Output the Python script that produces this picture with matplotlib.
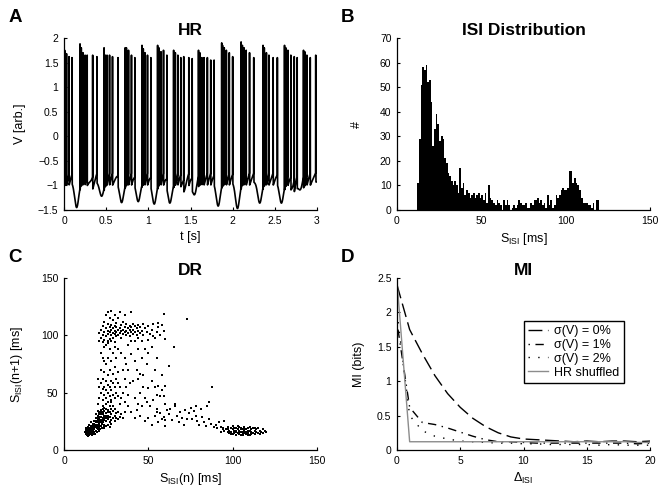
import numpy as np
import matplotlib
matplotlib.use("Agg")
import matplotlib.pyplot as plt

plt.rcParams['font.family'] = ['Liberation Sans', 'DejaVu Sans']
plt.rcParams['mathtext.fontset'] = 'custom'
plt.rcParams['mathtext.rm'] = 'Liberation Sans'
plt.rcParams['mathtext.it'] = 'Liberation Sans:italic'
plt.rcParams['mathtext.bf'] = 'Liberation Sans:bold'

# ---------------- Panel A: HR voltage trace ----------------
spike_times = [0.008, 0.030, 0.060, 0.095,
               0.190, 0.205, 0.225, 0.250, 0.275, 0.340, 0.390,
               0.475, 0.490, 0.510, 0.540, 0.575, 0.640,
               0.725, 0.740, 0.765, 0.800, 0.840,
               0.925, 0.940, 0.960, 0.990, 1.030,
               1.110, 1.125, 1.150, 1.180, 1.220,
               1.300, 1.320, 1.350, 1.385, 1.420, 1.480, 1.520,
               1.595, 1.610, 1.635, 1.660, 1.700, 1.740, 1.780,
               1.870, 1.880, 1.900, 1.925, 1.960, 2.000,
               2.100, 2.115, 2.135, 2.160, 2.200, 2.250,
               2.360, 2.375, 2.400, 2.430, 2.480, 2.530,
               2.615, 2.630, 2.655, 2.690, 2.730, 2.765,
               2.840, 2.855, 2.880, 2.920, 2.985]
spike_peaks = [1.75, 1.68, 1.62, 1.60,
               1.88, 1.80, 1.70, 1.65, 1.65, 1.65, 1.62,
               1.80, 1.65, 1.65, 1.65, 1.62, 1.60,
               1.80, 1.80, 1.75, 1.65, 1.60,
               1.85, 1.78, 1.70, 1.65, 1.60,
               1.85, 1.80, 1.72, 1.75, 1.65,
               1.75, 1.70, 1.65, 1.60, 1.62, 1.60, 1.58,
               1.75, 1.70, 1.60, 1.60, 1.60, 1.55, 1.55,
               1.90, 1.85, 1.80, 1.75, 1.70, 1.62,
               1.92, 1.85, 1.80, 1.75, 1.70, 1.60,
               1.85, 1.80, 1.70, 1.65, 1.60, 1.60,
               1.85, 1.80, 1.75, 1.65, 1.62, 1.60,
               1.75, 1.72, 1.65, 1.60, 1.65]
trough_times = [0.150, 0.330, 0.446, 0.683, 0.880, 1.070, 1.255, 1.425,
                1.552, 1.828, 2.057, 2.321, 2.578, 2.716, 2.807]
trough_values = [-1.45, -1.02, -1.22, -1.35, -1.33, -1.38, -1.36, -1.07,
                 -1.22, -1.42, -1.47, -1.36, -1.36, -1.10, -1.15]
rest_v = -0.93
after_spike_v = -1.0     # voltage right after a spike
pre_spike_v = -0.74      # voltage just before the next spike in a burst

# ---------------- Panel B: ISI histogram (1 ms bins) ----------------
isi_first_bin = 12
isi_counts = [11, 29, 51, 58, 57, 59, 52, 53, 44, 26,
              33, 39, 35, 28, 30, 29, 21, 19, 15, 14,
              12, 10, 12, 10, 7, 17, 9, 11, 6, 8,
              7, 5, 6, 7, 5, 6, 7, 5, 6, 4,
              7, 3, 10, 5, 4, 3, 2, 4, 3, 2,
              0, 4, 2, 4, 2, 0, 1, 2, 1, 2,
              4, 3, 2, 2, 3, 1, 1, 3, 2, 4,
              4, 5, 3, 4, 2, 3, 1, 6, 2, 4,
              1, 2, 6, 5, 6, 8, 9, 8, 8, 9,
              16, 16, 11, 13, 11, 10, 8, 5, 3, 3,
              3, 2, 2, 1, 3, 0, 4, 4]

# ---------------- Panel C: return map ----------------
dr_pts = [
 (13,15),(13.5,17),(14,14),(14,16),(14,18),(14.5,15),(15,13),(15,16),(15,19),(15.5,17),(16,15),(16,18),(16,21),(16.5,16),
 (17,14),(17,17),(17,20),(17,23),(17.5,19),(18,16),(18,18),(18,22),(18,25),(18.5,20),(19,17),(19,21),(19,24),(19,28),
 (19.5,19),(20,18),(20,22),(20,26),(20,30),(20.5,24),(21,20),(21,23),(21,27),(21,33),(21.5,25),(22,21),(22,26),(22,29),
 (22,35),(22.5,23),(23,24),(23,28),(23,31),(23,38),(23.5,27),(24,22),(24,26),(24,30),(24,34),(24.5,29),(25,25),(25,28),
 (25,32),(25,40),(26,27),(26,30),(26,35),(27,24),(27,29),(27,33),(28,26),(28,31),(28,36),(29,28),(29,34),(30,30),(30,25),
 (31,32),(32,27),(33,29),(13,19),(14,20),(15,22),(16,24),(13.5,13),(14.5,12.5),(15.5,14),(16.5,13.5),(17.5,15),(18.5,14),
 (19.5,16),(20.5,17),(21.5,18),(22.5,19),(23.5,20),(12.5,16),(13,14),(12.8,18),(14,15.5),(15,17.5),(16,19.5),(17,21),
 (18,20),(19,25),(20,20),(21,29),(22,31),(23,33),(24,37),(25,36),(26,33),(27,38),(28,42),(29,38),(30,36),(31,28),(32,33),
 (34,31),(35,28),(26,22),(27,20),(28,23),(25,21),(24,19),
 (13,16.5),(14,13),(15,14.5),(16,17),(17,18.5),(18,19),(19,20),(20,24),(21,22),(22,24),(23,26),(24,28),(25,30),(26,28),
 (19,22),(18,23),(17,16),(16,14),(20,28),(22,33),(21,31),(20,34),(19,31),(23,36),
 (20,40),(21,45),(22,50),(22,58),(23,44),(23,53),(23,62),(24,48),(24,55),(24,68),(25,45),(25,52),(25,60),(25,75),(26,42),
 (26,50),(26,57),(26,65),(26,80),(27,47),(27,55),(27,70),(27,88),(28,44),(28,52),(28,60),(28,78),(28,95),(29,48),(29,58),
 (29,66),(29,85),(30,45),(30,55),(30,72),(30,90),(31,50),(31,62),(31,80),(32,47),(32,58),(32,68),(32,88),(22,70),(23,80),
 (24,90),(25,92),(21,55),(20,62),(22,85),(24,78),(26,95),(33,40),(34,45),(33,55),(35,50),(36,42),(37,55),(38,48),(36,62),
 (35,70),(39,58),(37,75),
 (21,102),(22,98),(22,105),(23,100),(23,108),(24,96),(24,103),(24,112),(25,99),(25,106),(25,118),(26,101),(26,104),
 (26,110),(26,120),(27,97),(27,103),(27,107),(27,115),(28,100),(28,105),(28,109),(28,121),(29,98),(29,102),(29,106),
 (29,113),(30,101),(30,104),(30,108),(30,118),(31,99),(31,103),(31,107),(31,111),(32,100),(32,105),(32,115),(33,102),
 (33,106),(33,120),(34,98),(34,104),(34,109),(35,101),(35,105),(35,112),(36,103),(36,107),(36,118),(37,100),(37,104),
 (37,110),(38,102),(38,106),(39,99),(39,105),(39,108),(40,103),(40,107),(40,120),(41,101),(41,105),(41,110),(42,103),
 (42,108),(43,100),(43,106),(44,104),(44,109),(45,102),(45,107),(46,104),(47,110),(47,100),(48,106),(49,103),(50,108),
 (51,101),(52,105),(53,110),(54,98),(55,103),(56,107),(57,100),(58,109),(59,104),(60,97),(59,119),(56,111),(46,95),
 (50,96),(53,99),(42,95),(38,92),(44,98),(23,94),(26,93),(30,94),(21,95),
 (34,85),(36,80),(38,70),(40,84),(42,78),(44,62),(45,66),(47,65),(49,75),(50,54),(52,60),(54,55),(55,48),(56,56),(57,47),
 (58,52),(59,47),(60,40),(42,45),(44,40),(46,38),(48,45),(40,33),(43,35),(45,50),(47,55),(49,42),(51,38),(53,44),(55,36),
 (57,32),(59,29),(61,35),(38,38),(36,33),(41,60),(43,70),(50,85),(52,90),(48,88),(55,80),(54,70),(58,65),(60,56),(46,80),
 (40,95),(44,88),(62,73),(65,90),(73,114),
 (48,25),(50,28),(52,22),(54,30),(56,24),(58,27),(60,21),(62,31),(64,26),(66,40),(66,38),(68,24),(70,28),(71,22),(72,35),
 (74,32),(75,37),(76,27),(77,34),(78,30),(79,25),(80,22),(81,36),(82,29),(83,24),(84,21),(85,38),(86,27),(86,42),(87,23),
 (88,55),(89,20),(90,22),(91,19),(92,24),(93,20),(94,18),(95,25),(63,36),(69,33),(73,27),(78,38),(60,26),(67,30),(55,33),
 (45,30),(42,28),
 (96,18),(97,16),(97,20),(98,17),(98,15),(99,19),(99,16),(100,18),(100,14),(100,21),(101,17),(101,15),(102,19),(102,16),
 (102,13),(103,18),(103,15),(104,17),(104,20),(104,14),(105,16),(105,19),(106,18),(106,15),(106,13),(107,17),(107,20),
 (108,16),(108,14),(108,18),(109,19),(109,15),(110,17),(110,13),(110,20),(111,16),(111,18),(112,15),(112,19),(113,17),
 (113,14),(114,16),(114,18),(115,15),(115,19),(116,17),(116,14),(117,16),(118,18),(118,15),(119,17),(120,16),(103,21),
 (105,13),(107,15),(109,17),(111,14),(113,19),(101,19),(99,14),(97,18),(95,17),(94,19),(93,16),(105,18),(107,18),(109,13),
 (106,16),(104,16),(102,17)]
dr_x = [p[0] for p in dr_pts]
dr_y = [p[1] for p in dr_pts]

# ---------------- Panel D: mutual information ----------------
delta_isi = list(range(0, 21))
mi_sigma0 = [2.40, 1.75, 1.40, 1.08, 0.82, 0.62, 0.46, 0.34, 0.25, 0.19, 0.16,
             0.15, 0.14, 0.13, 0.12, 0.13, 0.12, 0.13, 0.13, 0.12, 0.13]
mi_sigma1 = [1.85, 0.62, 0.40, 0.37, 0.32, 0.26, 0.20, 0.15, 0.12, 0.12, 0.11,
             0.10, 0.10, 0.10, 0.10, 0.10, 0.10, 0.10, 0.10, 0.09, 0.10]
mi_sigma2 = [2.00, 0.50, 0.28, 0.20, 0.16, 0.13, 0.12, 0.11, 0.10, 0.10, 0.09,
             0.09, 0.08, 0.08, 0.08, 0.08, 0.07, 0.08, 0.07, 0.07, 0.07]
mi_shuffled = [2.45, 0.12, 0.12, 0.12, 0.12, 0.12, 0.12, 0.12, 0.12, 0.12, 0.12,
               0.12, 0.12, 0.12, 0.12, 0.12, 0.12, 0.12, 0.12, 0.11, 0.11]

# ======================================================================
W, H = 665, 498
fig = plt.figure(figsize=(W / 100, H / 100), dpi=100)

def make_ax(left, top, right, bottom):
    return fig.add_axes([left / W, 1 - bottom / H, (right - left) / W, (bottom - top) / H])

axA = make_ax(64, 38, 317, 210)
axB = make_ax(397, 38, 650, 210)
axC = make_ax(64, 278, 317, 450)
axD = make_ax(397, 278, 650, 450)

for ax in (axA, axB, axC, axD):
    ax.spines['top'].set_visible(False)
    ax.spines['right'].set_visible(False)
    ax.spines['left'].set_linewidth(0.9)
    ax.spines['bottom'].set_linewidth(0.9)
    ax.tick_params(direction='in', length=2.5, width=0.8, labelsize=7.5, pad=4)

title_kw = dict(fontsize=12.5, fontweight='bold', pad=2)
label_fs = 9

# Panel A trace
t = np.linspace(0, 3, 18001)
trough_part = np.zeros_like(t)
for tc, tv in zip(trough_times, trough_values):
    trough_part += (tv - rest_v) * np.exp(-0.5 * ((t - tc) / 0.024) ** 2)
v = rest_v + trough_part
st = np.array(spike_times)
for i in range(len(st) - 1):
    gap = st[i + 1] - st[i]
    if gap < 0.075:
        m = (t > st[i]) & (t < st[i + 1])
        ramp = after_spike_v + (pre_spike_v - after_spike_v) * (t[m] - st[i]) / gap
        v[m] = ramp + trough_part[m]
for ts, pk in zip(spike_times, spike_peaks):
    tri = pk - (pk - after_spike_v) * np.abs(t - ts) / 0.0016
    v = np.maximum(v, tri)
axA.plot(t, v, color='k', lw=1.2)
axA.set_xlim(0, 3)
axA.set_ylim(-1.5, 2)
axA.set_xticks(np.arange(0, 3.01, 0.5))
axA.set_xticklabels(['0', '0.5', '1', '1.5', '2', '2.5', '3'])
axA.set_yticks(np.arange(-1.5, 2.01, 0.5))
axA.set_yticklabels(['\u22121.5', '\u22121', '\u22120.5', '0', '0.5', '1', '1.5', '2'])
axA.set_title('HR', **title_kw)
axA.set_xlabel('t [s]', fontsize=label_fs)
axA.set_ylabel('V [arb.]', fontsize=label_fs)
axA.yaxis.set_label_coords(-0.150, 0.5)

# Panel B histogram
edges = np.arange(isi_first_bin, isi_first_bin + len(isi_counts))
axB.bar(edges, isi_counts, width=1.0, align='edge', color='k', linewidth=0)
axB.set_xlim(0, 150)
axB.set_ylim(0, 70)
axB.set_xticks([0, 50, 100, 150])
axB.set_yticks(np.arange(0, 71, 10))
axB.set_title('ISI Distribution', **title_kw)
axB.set_xlabel(r'S$_{\mathrm{ISI}}$ [ms]', fontsize=label_fs)
axB.set_ylabel('#', fontsize=label_fs)
axB.yaxis.set_label_coords(-0.134, 0.5)

# Panel C scatter
axC.scatter(dr_x, dr_y, s=2.0, marker='s', color='k', linewidths=0)
axC.set_xlim(0, 150)
axC.set_ylim(0, 150)
axC.set_xticks([0, 50, 100, 150])
axC.set_yticks([0, 50, 100, 150])
axC.set_title('DR', **title_kw)
axC.set_xlabel(r'S$_{\mathrm{ISI}}$(n) [ms]', fontsize=label_fs)
axC.set_ylabel(r'S$_{\mathrm{ISI}}$(n+1) [ms]', fontsize=label_fs)
axC.yaxis.set_label_coords(-0.154, 0.5)

# Panel D MI curves
l0, = axD.plot(delta_isi, mi_sigma0, color='k', lw=1.0, label='\u03c3(V) = 0%')
l0.set_dashes([10, 4])
l1, = axD.plot(delta_isi, mi_sigma1, color='k', lw=1.0, label='\u03c3(V) = 1%')
l1.set_dashes([1, 4, 6, 4])
l2, = axD.plot(delta_isi, mi_sigma2, color='k', lw=1.0, label='\u03c3(V) = 2%')
l2.set_dashes([1, 6])
axD.plot(delta_isi, mi_shuffled, color='0.55', lw=1.0, label='HR shuffled')
axD.set_xlim(0, 20)
axD.set_ylim(0, 2.5)
axD.set_xticks([0, 5, 10, 15, 20])
axD.set_yticks(np.arange(0, 2.51, 0.5))
axD.set_yticklabels(['0', '0.5', '1', '1.5', '2', '2.5'])
axD.set_title('MI', **title_kw)
axD.set_xlabel('\u0394$_{\\mathrm{ISI}}$', fontsize=label_fs)
axD.set_ylabel('MI (bits)', fontsize=label_fs)
axD.yaxis.set_label_coords(-0.126, 0.5)
leg = axD.legend(loc='upper left', bbox_to_anchor=(0.5, 0.752), fontsize=9,
                 handlelength=1.6, handletextpad=0.5, labelspacing=0.15,
                 borderpad=0.35, fancybox=False, framealpha=1, borderaxespad=0)
leg.get_frame().set_edgecolor('k')
leg.get_frame().set_linewidth(1.0)

# Panel letters
for letter, (x, y) in zip('ABCD', [(15, 17), (347, 17), (15, 258), (347, 258)]):
    fig.text(x / W, 1 - y / H, letter, fontsize=13.5, fontweight='bold', ha='center', va='center')

fig.savefig('out.png', dpi=100)
